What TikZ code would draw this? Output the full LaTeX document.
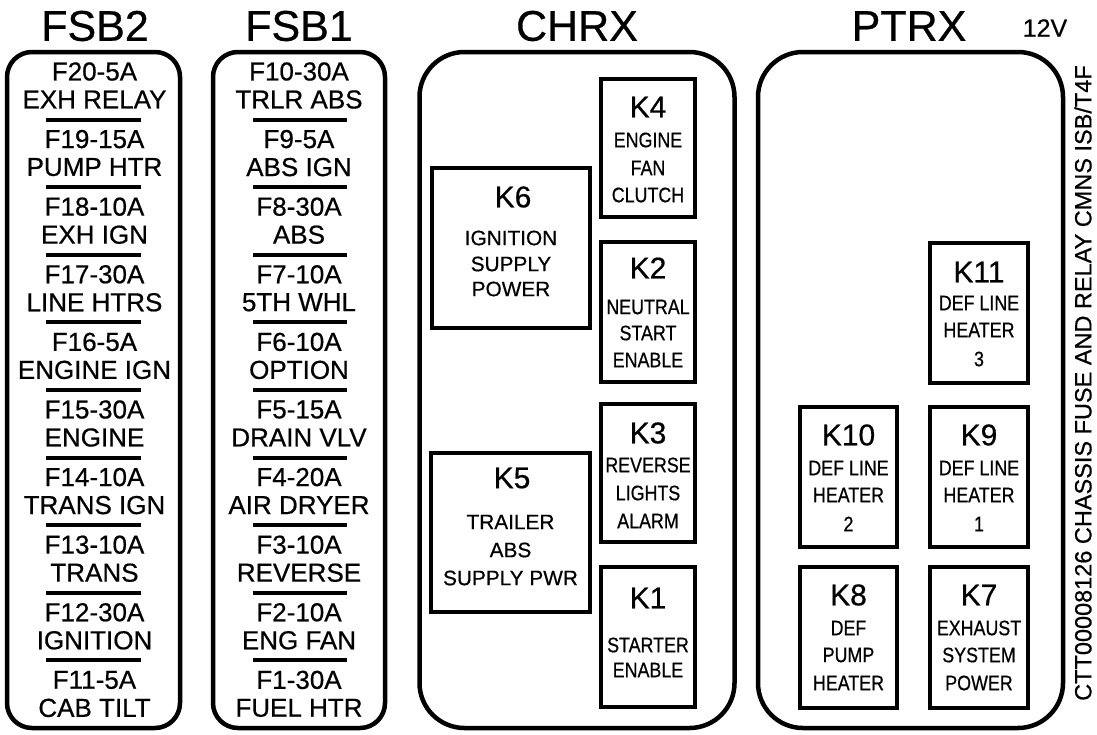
\documentclass[tikz,border=0pt]{standalone}
\usepackage{fontspec}
\setmainfont{Liberation Sans}[FakeBold=0.6]
\newfontfamily\plainsans{Liberation Sans}[FakeBold=0.6]
\newfontfamily\narrowsans{Liberation Sans}[FakeStretch=0.85,FakeBold=0.6]
\begin{document}
\begin{tikzpicture}[x=1pt,y=-1pt,
  title/.style={font=\plainsans\fontsize{43}{43}\selectfont, inner sep=0},
  volt/.style={font=\plainsans\fontsize{25}{25}\selectfont, inner sep=0},
  side/.style={font=\plainsans\fontsize{23.5}{23.5}\selectfont, inner sep=0, rotate=90},
  fuse/.style={font=\plainsans\fontsize{26}{26}\selectfont, inner sep=0},
  panel/.style={draw, line width=4.5pt, rectangle, inner sep=0},
  relaybox/.style={draw, line width=4pt, rectangle, inner sep=0},
  rid/.style={font=\plainsans\fontsize{30}{30}\selectfont, inner sep=0},
  rtxt/.style={font=\narrowsans\fontsize{21}{21}\selectfont, inner sep=0},
  wtxt/.style={font=\plainsans\fontsize{20.8}{20.8}\selectfont, inner sep=0},
  sepline/.style={line width=4pt}]
\useasboundingbox (0,0) rectangle (1097,734);

% titles
\node[title] (t-fsb2) at (95,26) {FSB2};
\node[title] (t-fsb1) at (299,26) {FSB1};
\node[title] (t-chrx) at (577,26) {CHRX};
\node[title] (t-ptrx) at (909,26) {PTRX};
\node[volt] (t-12v) at (1045,28) {12V};
\node[side] (t-side) at (1083,383) {CTT00008126 CHASSIS FUSE AND RELAY CMNS ISB/T4F};

% panels
\node[panel, rounded corners=25pt, minimum width=173pt, minimum height=676pt] (fsb2) at (93.5,390) {};
\node[panel, rounded corners=25pt, minimum width=172pt, minimum height=676pt] (fsb1) at (299,390) {};
\node[panel, rounded corners=45pt, minimum width=315pt, minimum height=676pt] (chrx) at (577,390) {};
\node[panel, rounded corners=45pt, minimum width=305pt, minimum height=676pt] (ptrx) at (910.5,390) {};

% FSB2 fuses
\foreach \n/\a/\b [count=\i from 0] in {20/5A/EXH RELAY,19/15A/PUMP HTR,18/10A/EXH IGN,17/30A/LINE HTRS,16/5A/ENGINE IGN,15/30A/ENGINE,14/10A/TRANS IGN,13/10A/TRANS,12/30A/IGNITION,11/5A/CAB TILT}{
  \node[fuse] (f\n-id) at (94.5,71.5+67.6*\i) {F\n-\a};
  \node[fuse] (f\n-name) at (94.5,99.5+67.6*\i) {\b};
}
% FSB1 fuses
\foreach \n/\a/\b [count=\i from 0] in {10/30A/TRLR ABS,9/5A/ABS IGN,8/30A/ABS,7/10A/5TH WHL,6/10A/OPTION,5/15A/DRAIN VLV,4/20A/AIR DRYER,3/10A/REVERSE,2/10A/ENG FAN,1/30A/FUEL HTR}{
  \node[fuse] (f\n-id) at (299,71.5+67.6*\i) {F\n-\a};
  \node[fuse] (f\n-name) at (299,99.5+67.6*\i) {\b};
}
% separators
\foreach \i in {0,...,8}{
  \draw[sepline] (46,119.5+67.6*\i) -- (141,119.5+67.6*\i);
  \draw[sepline] (253,119.5+67.6*\i) -- (347,119.5+67.6*\i);
}

% CHRX relays
\node[relaybox, minimum width=94pt, minimum height=138pt] (k4) at (648,148) {};
\node[rid] at (648,107) {K4};
\node[rtxt] at (648,140) {ENGINE};
\node[rtxt] at (648,168) {FAN};
\node[rtxt] at (648,195) {CLUTCH};

\node[relaybox, minimum width=94pt, minimum height=140pt] (k2) at (648,312) {};
\node[rid] at (648,268) {K2};
\node[rtxt] at (648,307) {NEUTRAL};
\node[rtxt] at (648,333) {START};
\node[rtxt] at (648,360) {ENABLE};

\node[relaybox, minimum width=94pt, minimum height=138pt] (k3) at (648,473) {};
\node[rid] at (648,433) {K3};
\node[rtxt] at (648,465) {REVERSE};
\node[rtxt] at (648,493) {LIGHTS};
\node[rtxt] at (648,521) {ALARM};

\node[relaybox, minimum width=94pt, minimum height=140pt] (k1) at (648,637) {};
\node[rid] at (648,598) {K1};
\node[rtxt] at (648,645) {STARTER};
\node[rtxt] at (648,670) {ENABLE};

\node[relaybox, minimum width=158pt, minimum height=160pt] (k6) at (511,248) {};
\node[rid] at (513,197) {K6};
\node[wtxt] at (511,238) {IGNITION};
\node[wtxt] at (511,264) {SUPPLY};
\node[wtxt] at (511,289) {POWER};

\node[relaybox, minimum width=159pt, minimum height=159pt] (k5) at (510.5,532.5) {};
\node[rid] at (512,478) {K5};
\node[wtxt] at (510.5,522) {TRAILER};
\node[wtxt] at (510.5,550) {ABS};
\node[wtxt] at (510.5,578) {SUPPLY PWR};

% PTRX relays
\node[relaybox, minimum width=98pt, minimum height=140pt] (k11) at (979,313) {};
\node[rid] at (979,272) {K11};
\node[rtxt] at (979,303) {DEF LINE};
\node[rtxt] at (979,330) {HEATER};
\node[rtxt] at (979,359) {3};

\node[relaybox, minimum width=97pt, minimum height=140pt] (k10) at (848.5,477) {};
\node[rid] at (848.5,435) {K10};
\node[rtxt] at (848.5,468) {DEF LINE};
\node[rtxt] at (848.5,495) {HEATER};
\node[rtxt] at (848.5,524) {2};

\node[relaybox, minimum width=98pt, minimum height=140pt] (k9) at (979,477) {};
\node[rid] at (979,435) {K9};
\node[rtxt] at (979,468) {DEF LINE};
\node[rtxt] at (979,495) {HEATER};
\node[rtxt] at (979,524) {1};

\node[relaybox, minimum width=97pt, minimum height=141pt] (k8) at (848.5,637.5) {};
\node[rid] at (848.5,595) {K8};
\node[rtxt] at (848.5,628) {DEF};
\node[rtxt] at (848.5,655) {PUMP};
\node[rtxt] at (848.5,683) {HEATER};

\node[relaybox, minimum width=98pt, minimum height=141pt] (k7) at (979,637.5) {};
\node[rid] at (979,595) {K7};
\node[rtxt] at (979,628) {EXHAUST};
\node[rtxt] at (979,655) {SYSTEM};
\node[rtxt] at (979,683) {POWER};
\end{tikzpicture}
\end{document}
